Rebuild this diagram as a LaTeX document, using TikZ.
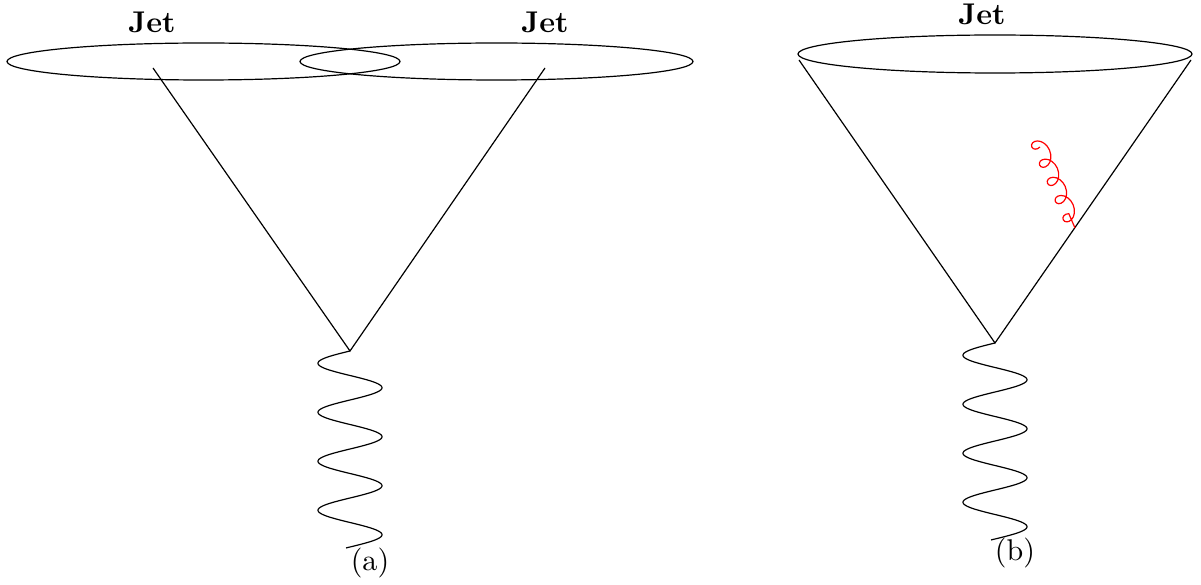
\documentclass[tikz,border=0pt]{standalone}
\usetikzlibrary{decorations.pathmorphing}
\begin{document}
\begin{tikzpicture}[x=0.3333pt,y=-0.3333pt,line width=0.4pt,
  jetline/.style={draw,black},
  photonw/.style={draw,black},
  gluon/.style={draw,red,decorate,decoration={coil,amplitude=-2.5pt,segment length=6.6pt,aspect=1.1}},
  lbl/.style={inner sep=0pt,font=\bfseries},
  captext/.style={inner sep=0pt}]
\useasboundingbox (0,0) rectangle (1201,585);
% panel (a)
\coordinate (ea1) at (203.5,61.5);
\coordinate (ea2) at (496.5,61.5);
\draw (ea1) ellipse [x radius=196.5, y radius=18.5];
\draw (ea2) ellipse [x radius=196.5, y radius=18.5];
\coordinate (la) at (153,68);
\coordinate (ra) at (545,68);
\coordinate (va) at (350,351);
\draw[jetline] (la) -- (va) -- (ra);
\draw[photonw,shift={(va)}] plot[domain=0:1447,samples=240,smooth] ({-32*sin(\x)},{\x/360*49});
\node[lbl] (jet1) at (152,22) {Jet};
\node[lbl] (jet2) at (545,22) {Jet};
\node[captext] (capa) at (370,563) {(a)};
% panel (b)
\coordinate (eb) at (995,54);
\draw (eb) ellipse [x radius=197, y radius=19];
\coordinate (lb) at (799,60);
\coordinate (rb) at (1191,60);
\coordinate (vb) at (995,343);
\draw[jetline] (lb) -- (vb) -- (rb);
\draw[photonw,shift={(vb)}] plot[domain=0:1447,samples=240,smooth] ({-32*sin(\x)},{\x/360*49});
\coordinate (g1) at (1040,147);
\coordinate (g2) at (1075,228);
\draw[gluon] (g1) -- (g2);
\node[lbl] (jet3) at (982,14) {Jet};
\node[captext] (capb) at (1015,553) {(b)};
\end{tikzpicture}
\end{document}
